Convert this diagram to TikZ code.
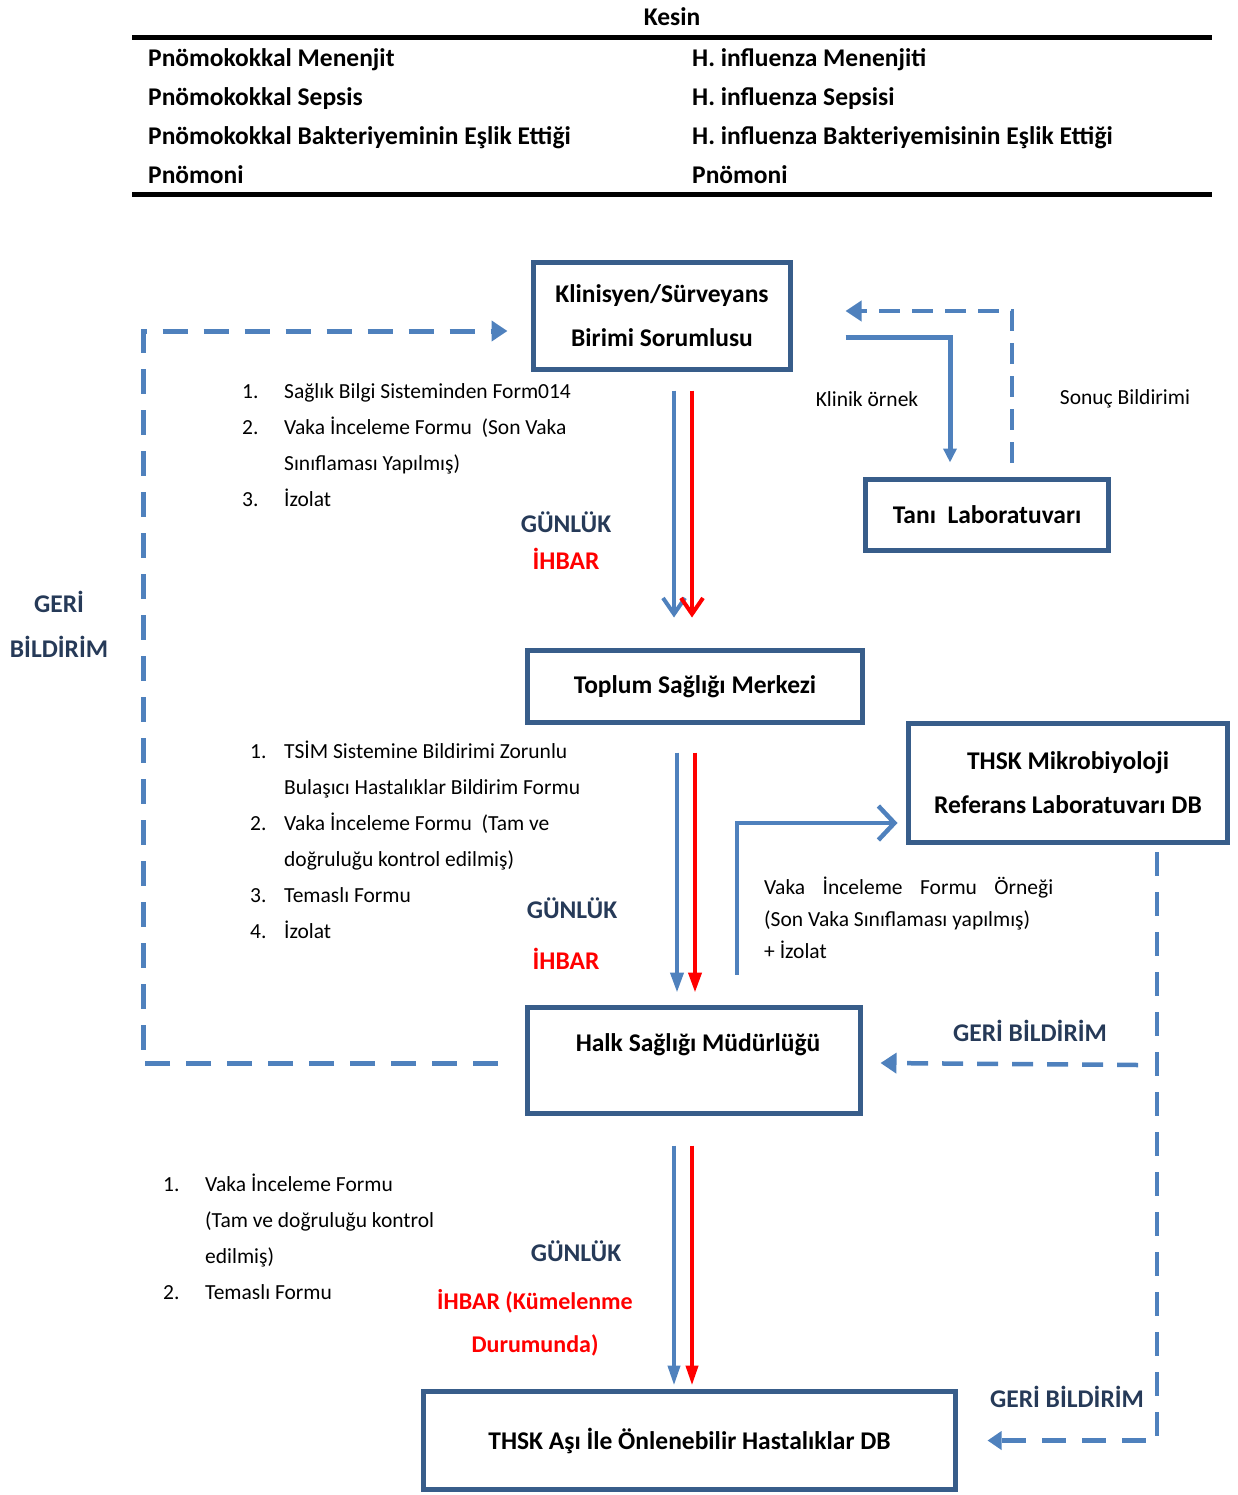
\documentclass[tikz,border=0pt]{standalone}
\usepackage{fontspec}
\setmainfont{Carlito}
\usetikzlibrary{arrows.meta}
\definecolor{boxblue}{RGB}{56,93,138}
\definecolor{lineblue}{RGB}{79,129,189}
\definecolor{labelgray}{RGB}{38,58,88}
\definecolor{alarmred}{RGB}{255,0,0}
\tikzset{
  stage/.style={draw=boxblue,line width=5pt,inner sep=0pt},
  boxtxt/.style={font=\fontsize{25.5}{44}\selectfont\bfseries,align=center,inner sep=0pt},
  flowtxt/.style={font=\fontsize{25.5}{30}\selectfont\bfseries,text=labelgray,inner sep=0pt},
  alarmtxt/.style={font=\fontsize{25.5}{30}\selectfont\bfseries,text=alarmred,inner sep=0pt},
  listtxt/.style={font=\fontsize{21.5}{36}\selectfont,inner sep=0pt,anchor=base west},
  smalltxt/.style={font=\fontsize{21.5}{32}\selectfont,inner sep=0pt},
  bluedown/.style={draw=lineblue,line width=4pt},
  reddown/.style={draw=alarmred,line width=4pt},
  feedback/.style={draw=lineblue,line width=5pt,dash pattern=on 25pt off 16pt,-{Triangle[length=16pt,width=20pt]}},
}
\begin{document}
\begin{tikzpicture}[x=1pt,y=-1pt]
	\useasboundingbox (0,0) rectangle (1238,1495);

	% kesin tablosu
	\node[boxtxt] (kesin) at (672,17) {Kesin};
	\draw[line width=5pt] (132,38) -- (1212,38);
	\draw[line width=5pt] (132,195) -- (1212,195);
	\foreach \l/\r [count=\i] in {Pnömokokkal Menenjit/H. influenza Menenjiti,
		Pnömokokkal Sepsis/H. influenza Sepsisi,
		Pnömokokkal Bakteriyeminin Eşlik Ettiği/H. influenza Bakteriyemisinin Eşlik Ettiği,
		Pnömoni/Pnömoni}{
		\node[boxtxt,anchor=base west] (left\i) at (148,{67+38.7*(\i-1)}) {\l};
		\node[boxtxt,anchor=base west] (right\i) at (692,{67+38.7*(\i-1)}) {\r};
	}

	% kutular
	\node[stage,minimum width=257pt,minimum height=107pt,boxtxt] (klin) at (662,316) {Klinisyen/Sürveyans\\Birimi Sorumlusu};
	\node[stage,minimum width=243pt,minimum height=71pt,boxtxt] (tani) at (987,515) {Tanı~~Laboratuvarı};
	\node[stage,minimum width=335pt,minimum height=72pt,boxtxt] (toplum) at (695,686.5) {Toplum Sağlığı Merkezi};
	\node[stage,minimum width=319pt,minimum height=119pt,boxtxt] (mikro) at (1068,783) {THSK Mikrobiyoloji\\Referans Laboratuvarı DB};
	\node[stage,minimum width=333pt,minimum height=106pt] (halk) at (694,1060.5) {};
	\node[boxtxt] (halkt) at (698,1045) {Halk Sağlığı Müdürlüğü};
	\node[stage,minimum width=532pt,minimum height=98pt,boxtxt] (asi) at (689.5,1440.5) {THSK Aşı İle Önlenebilir Hastalıklar DB};

	% ihbar oklari
	\draw[bluedown,-{Straight Barb[length=16pt,width=22pt]}] ([shift={(12,18.5)}]klin.south) -- ([shift={(-21,-30.5)}]toplum.north);
	\draw[reddown,-{Straight Barb[length=16pt,width=22pt]}] ([shift={(30,18.5)}]klin.south) -- ([shift={(-3,-30.5)}]toplum.north);
	\draw[bluedown,-{Triangle[length=20pt,width=13pt]}] ([shift={(-18,27.5)}]toplum.south) -- ([shift={(-17,-12.5)}]halk.north);
	\draw[reddown,-{Triangle[length=20pt,width=13pt]}] ([shift={(0,27.5)}]toplum.south) -- ([shift={(1,-12.5)}]halk.north);
	\draw[bluedown,-{Triangle[length=20pt,width=12pt]}] ([shift={(-20,29.5)}]halk.south) -- ([shift={(-15.5,-3.5)}]asi.north);
	\draw[reddown,-{Triangle[length=20pt,width=12pt]}] ([shift={(-2,29.5)}]halk.south) -- ([shift={(2.5,-3.5)}]asi.north);

	% laboratuvar
	\draw[draw=lineblue,line width=5pt,-{Triangle[length=14pt,width=13pt]}] ([shift={(52.5,21)}]klin.east) -| ([shift={(-37,-14.5)}]tani.north);
	\draw[feedback,line width=4.5pt,dash pattern=on 21pt off 12pt] ([shift={(25,-14.5)}]tani.north) |- ([shift={(52.5,-5)}]klin.east);
	\draw[draw=lineblue,line width=4.5pt,-{Straight Barb[length=16pt,width=34pt]}] ([shift={(43,-30.5)}]halk.north) |- ([shift={(-8.5,40)}]mikro.west);

	% geri bildirimler
	\draw[feedback] ([shift={(-27,3)}]halk.west) -- ++(-355,0) |- ([shift={(-23.5,15)}]klin.west);
	\draw[feedback,line width=4.5pt,dash pattern=on 24pt off 16pt,-{Triangle[length=14pt,width=18pt]}] ([shift={(89,7)}]mikro.south) |- ([xshift=29.5]asi.east);
	\draw[feedback,line width=4.5pt,dash pattern=on 21pt off 14pt] ([shift={(70,220)}]mikro.south) -- ([shift={(17.5,2.5)}]halk.east);

	% etiketler
	\node[smalltxt] (klinik) at (867,399) {Klinik örnek};
	\node[smalltxt] (sonuc) at (1125,399) {Sonuç Bildirimi};
	\node[listtxt] (list1) at (242,398) {\begin{tabular}[t]{@{}p{42pt}@{}l@{}}
		1. & Sağlık Bilgi Sisteminden Form014\\
		2. & Vaka İnceleme Formu~~(Son Vaka\\
		   & Sınıflaması Yapılmış)\\
		3. & İzolat
	\end{tabular}};
	\node[flowtxt] (gunluk1) at (566,522) {GÜNLÜK};
	\node[alarmtxt] (ihbar1) at (566,559) {İHBAR};
	\node[flowtxt,align=center,font=\fontsize{25.5}{45}\selectfont\bfseries] (geri1) at (59,624) {GERİ\\BİLDİRİM};
	\node[listtxt] (list2) at (250,758) {\begin{tabular}[t]{@{}p{34pt}@{}l@{}}
		1. & TSİM Sistemine Bildirimi Zorunlu\\
		   & Bulaşıcı Hastalıklar Bildirim Formu\\
		2. & Vaka İnceleme Formu~~(Tam ve\\
		   & doğruluğu kontrol edilmiş)\\
		3. & Temaslı Formu\\
		4. & İzolat
	\end{tabular}};
	\node[flowtxt] (gunluk2) at (572,908) {GÜNLÜK};
	\node[alarmtxt] (ihbar2) at (566,959) {İHBAR};
	\node[smalltxt,anchor=base west,align=left] (ornek) at (764,958) {\makebox[289pt][s]{Vaka İnceleme Formu Örneği}\\(Son Vaka Sınıflaması yapılmış)\\+ İzolat};
	\node[flowtxt] (geri2) at (1030,1031) {GERİ BİLDİRİM};
	\node[listtxt] (list3) at (163,1191) {\begin{tabular}[t]{@{}p{42pt}@{}l@{}}
		1. & Vaka İnceleme Formu\\
		   & (Tam ve doğruluğu kontrol\\
		   & edilmiş)\\
		2. & Temaslı Formu
	\end{tabular}};
	\node[flowtxt] (gunluk3) at (576,1251) {GÜNLÜK};
	\node[alarmtxt,align=center,font=\fontsize{24}{43}\selectfont\bfseries] (ihbar3) at (535,1323) {İHBAR (Kümelenme\\Durumunda)};
	\node[flowtxt] (geri3) at (1067,1397) {GERİ BİLDİRİM};
\end{tikzpicture}
\end{document}
